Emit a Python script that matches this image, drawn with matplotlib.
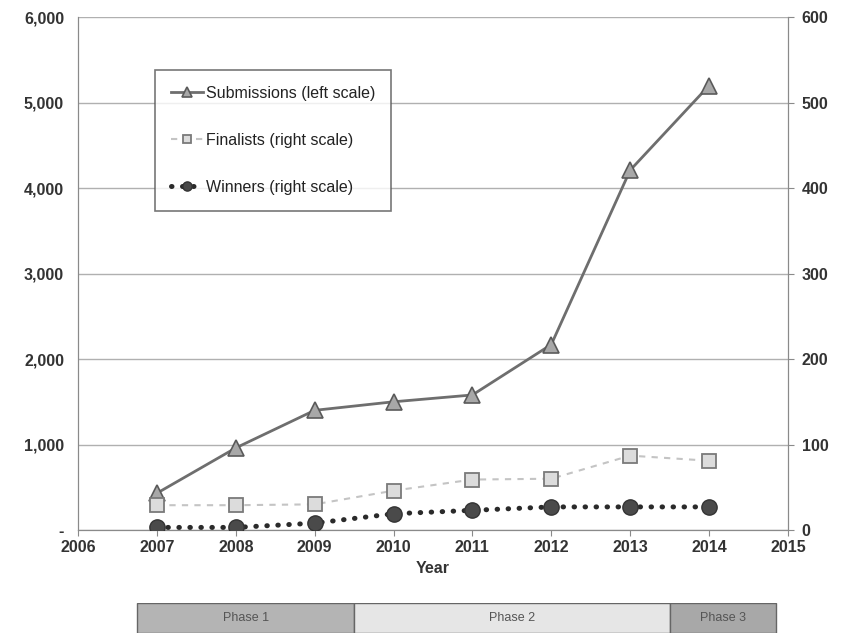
import matplotlib.pyplot as plt
from matplotlib.ticker import FuncFormatter, MultipleLocator
from matplotlib.patches import Rectangle

plt.rcParams['font.family'] = ['Liberation Sans', 'DejaVu Sans']

years = [2007, 2008, 2009, 2010, 2011, 2012, 2013, 2014]
submissions = [430, 960, 1400, 1500, 1580, 2170, 4210, 5200]
finalists = [29, 29, 30, 46, 59, 60, 87, 81]
winners = [3, 3, 8, 19, 23, 27, 27, 27]

phase_names = ['Phase 1', 'Phase 2', 'Phase 3']
phase_start = [2006.75, 2009.5, 2013.5]
phase_end = [2009.5, 2013.5, 2014.85]
phase_colors = ['#b4b4b4', '#e6e6e6', '#a8a8a8']

fig = plt.figure(figsize=(8.44, 6.37), dpi=100)
ax = fig.add_axes([0.0924, 0.168, 0.8412, 0.805])
ax2 = ax.twinx()

ax.set_xlim(2006, 2015)
ax.set_ylim(0, 6000)
ax2.set_ylim(0, 600)
ax.yaxis.set_major_locator(MultipleLocator(1000))
ax2.yaxis.set_major_locator(MultipleLocator(100))
ax.xaxis.set_major_locator(MultipleLocator(1))
ax.yaxis.set_major_formatter(FuncFormatter(lambda v, p: '-' if v == 0 else f'{int(v):,}'))
ax.xaxis.set_major_formatter(FuncFormatter(lambda v, p: f'{int(v)}'))

ax.grid(axis='y', color='#b0b0b0', lw=1.0)
ax.set_axisbelow(True)
for a in (ax, ax2):
    a.spines['top'].set_visible(False)
    for s in ('left', 'right', 'bottom'):
        a.spines[s].set_color('#8a8a8a')
    a.tick_params(colors='#8a8a8a', labelcolor='#333333', labelsize=11.5, length=4)
for lab in ax.get_xticklabels() + ax.get_yticklabels() + ax2.get_yticklabels():
    lab.set_fontweight('bold')
ax.tick_params(axis='y', length=0, pad=10)
ax2.tick_params(axis='y', length=4, pad=6)

ax.set_xlabel('Year', fontsize=11.5, fontweight='bold', color='#333333', labelpad=4)

l1, = ax.plot(years, submissions, color='#6e6e6e', lw=2, marker='^', ms=12,
              mfc='#a8a8a8', mec='#5a5a5a', mew=1.2, zorder=5,
              label='Submissions (left scale)')
l2, = ax2.plot(years, finalists, color='#c4c4c4', lw=1.5, ls=(0, (3, 3)), marker='s', ms=10,
               mfc='#dcdcdc', mec='#7a7a7a', mew=1.3, zorder=4,
               label='Finalists (right scale)')
l3, = ax2.plot(years, winners, color='#2a2a2a', lw=3.6, ls=(0, (0.1, 2.1)),
               dash_capstyle='round', marker='o', ms=11,
               mfc='#4a4a4a', mec='#333333', mew=1, zorder=4,
               label='Winners (right scale)')

leg = ax.legend(handles=[l1, l2, l3], loc='upper left', bbox_to_anchor=(0.097, 0.913),
                fontsize=11.5, frameon=True, fancybox=False, labelspacing=2.0,
                handlelength=2.0, handletextpad=0.2, borderpad=1.0, markerscale=0.6)
leg.get_frame().set_edgecolor('#555555')
leg.get_frame().set_linewidth(1.2)
for t in leg.get_texts():
    t.set_color('#222222')

# phase strip under the x axis, sharing the year scale
axp = fig.add_axes([0.0924, 0.006, 0.8412, 0.047], sharex=ax)
axp.set_ylim(0, 1)
axp.axis('off')
for name, x0, x1, c in zip(phase_names, phase_start, phase_end, phase_colors):
    axp.add_patch(Rectangle((x0, 0), x1 - x0, 1, facecolor=c, edgecolor='#666666', lw=1))
    axp.text((x0 + x1) / 2, 0.5, name, ha='center', va='center', fontsize=9, color='#555555')

fig.savefig('out.png', dpi=100)
